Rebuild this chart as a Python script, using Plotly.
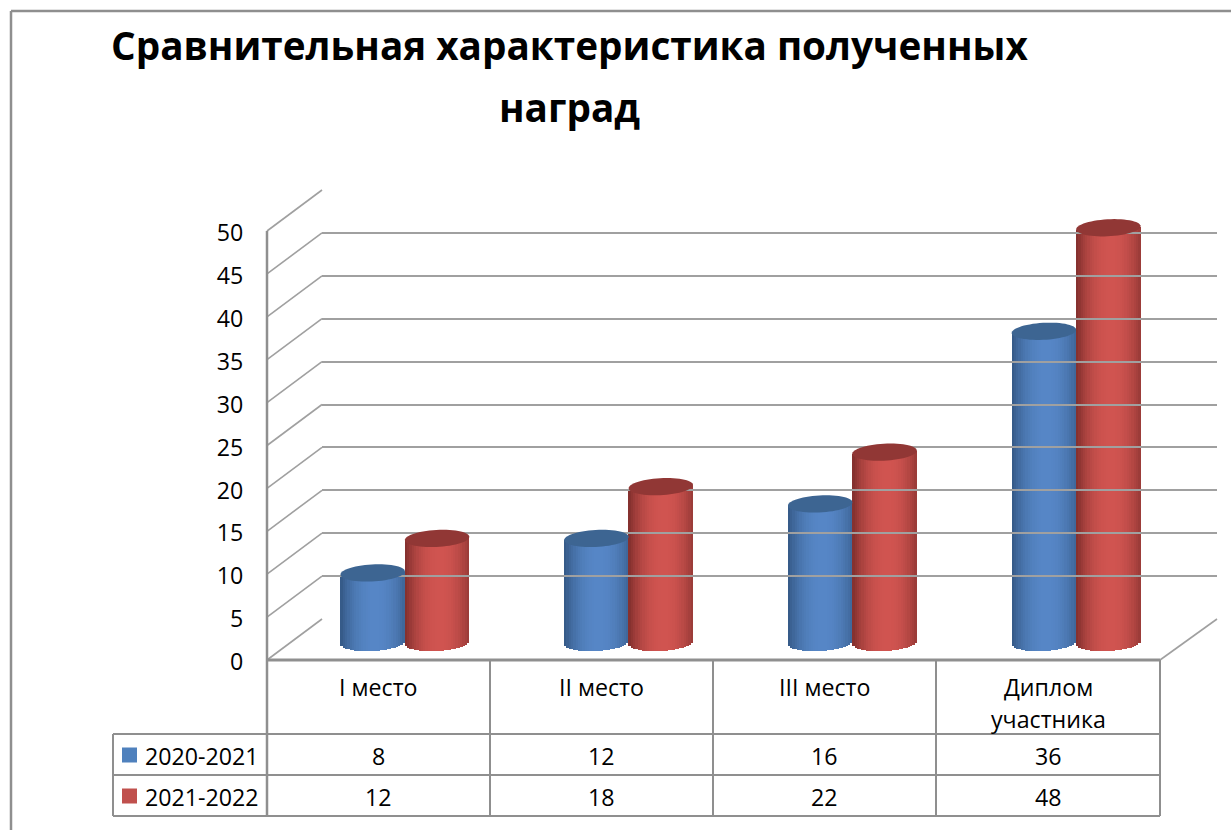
import numpy as np
import plotly.graph_objects as go

# ---- data ----
categories = ["I место", "II место", "III место", "Диплом<br>участника"]
series_names = ["2020-2021", "2021-2022"]
values_2020 = [8, 12, 16, 36]
values_2021 = [12, 18, 22, 48]
y_ticks = [0, 5, 10, 15, 20, 25, 30, 35, 40, 45, 50]
title_lines = ["Сравнительная характеристика полученных", "наград"]

# ---- style ----
W, H = 1231, 830
FONT = "Open Sans"
GREY = "#8f8f8f"
GRID = "#a0a0a0"
BLUE = dict(edge=(52, 88, 132), mid=(86, 134, 198), top="#3d6592", key="#4f81bd")
RED = dict(edge=(128, 46, 44), mid=(208, 84, 80), top="#913735", key="#c0504d")
N = 28
LABEL = 23.2


def px(x):
    return x / W


def py(y):
    return 1 - y / H


def shade(c, t):
    # t in [-1,1] across the cylinder; highlight slightly right of centre
    u = min(1, abs(t - 0.08) / 1.08)
    k = u ** 2.2
    rgb = [round(c["mid"][i] + (c["edge"][i] - c["mid"][i]) * k) for i in range(3)]
    return f"rgb({rgb[0]},{rgb[1]},{rgb[2]})"


fig = go.Figure()
shapes, annos = [], []

FL, FR = 267, 1160      # front floor edge
BL, BR = 322, 1217      # back wall
F0, F50 = 660, 231      # front value scale
B0, B50 = 619, 190      # back value scale
C0, C50 = 642, 210.5    # cylinder value scale
CL, CR = 293, 1188      # cylinder category band
LABEL_SHIFT = 2         # tick labels sit slightly below their gridlines

unit = (C0 - C50) / 50
bw = 0.288              # width of one cylinder in category units
ell_h = 8.5 / unit      # half height of ellipse, value units
tilt = 1.6 / unit       # the ellipses lean: left side lower
c_low = -2.0            # cylinder axis starts below zero so rounded bottoms show

# cylinders as narrow strips
xs = list(range(len(categories)))
for vals, c, sign in ((values_2020, BLUE, -1), (values_2021, RED, 1)):
    for j in range(N):
        t = -1 + (2 * j + 1) / N
        dw = bw / N
        centre = (sign * bw / 2) + t * bw / 2
        low = -ell_h * np.sqrt(max(0, 1 - t * t)) + tilt * t
        fig.add_trace(go.Bar(
            x=xs,
            y=[v + tilt * t - low for v in vals],
            base=[low] * len(vals),
            width=[dw * 1.12] * len(vals),
            offset=[centre - dw * 0.56] * len(vals),
            marker=dict(color=shade(c, t), line=dict(width=0)),
            xaxis="x2", yaxis="y2", showlegend=False, hoverinfo="skip",
        ))
    ang = np.linspace(0, 2 * np.pi, 60)
    for i, v in enumerate(vals):
        cx = i + sign * bw / 2
        pts = [(cx + bw / 2 * np.cos(a), v + ell_h * np.sin(a) + tilt * np.cos(a)) for a in ang]
        path = "M " + " L ".join(f"{a:.4f},{b:.4f}" for a, b in pts) + " Z"
        shapes.append(dict(type="path", path=path, xref="x2", yref="y2", layer="above",
                           fillcolor=c["top"], line=dict(width=0)))

# back wall grid and value labels come from axes (invisible dummy traces anchor them)
fig.add_trace(go.Scatter(x=[0], y=[0], xaxis="x3", yaxis="y3", mode="none",
                         showlegend=False, hoverinfo="skip"))
fig.add_trace(go.Scatter(x=[0], y=[0], xaxis="x", yaxis="y", mode="none",
                         showlegend=False, hoverinfo="skip"))

# diagonals from front scale to back wall
for v in y_ticks:
    yf = F0 + (F50 - F0) * v / 50
    yb = B0 + (B50 - B0) * v / 50
    shapes.append(dict(type="line", xref="paper", yref="paper", layer="below",
                       x0=px(FL), x1=px(BL), y0=py(yf), y1=py(yb),
                       line=dict(color=GRID, width=1.6)))
shapes.append(dict(type="line", xref="paper", yref="paper", layer="below",
                   x0=px(FR), x1=px(BR), y0=py(F0), y1=py(B0),
                   line=dict(color=GRID, width=1.6)))


# table lines
def line(x0, y0, x1, y1, w=2, color=GREY):
    shapes.append(dict(type="line", xref="paper", yref="paper", layer="below",
                       x0=px(x0), x1=px(x1), y0=py(y0), y1=py(y1),
                       line=dict(color=color, width=w)))


col_x = [267, 490, 713, 936, 1160]
row_y = [734, 775, 816]
line(FL, F50, FL, 816, 2.5)
line(FL, F0, FR, F0, 3)
for x in col_x[1:]:
    line(x, F0, x, 816)
line(113, 734, 113, 816)
for y in row_y:
    line(113, y, 1160, y)

# outer frame
line(11, 11, 11, H, 2.5)
line(11, 11, W, 11, 2.5)


# table text
def text(x, y, s, size=LABEL, xanchor="center", color="#000000", bold=False):
    annos.append(dict(xref="paper", yref="paper", x=px(x), y=py(y), text=f"<b>{s}</b>" if bold else s,
                      showarrow=False, xanchor=xanchor, yanchor="middle",
                      font=dict(family=FONT, size=size, color=color), align="center"))


centres = [(col_x[i] + col_x[i + 1]) / 2 for i in range(4)]
for c_x, cat in zip(centres, categories):
    if "<br>" in cat:
        a, b = cat.split("<br>")
        text(c_x, 687, a)
        text(c_x, 719, b)
    else:
        text(c_x, 687, cat)

for row, (name, vals, c) in enumerate(zip(series_names, (values_2020, values_2021), (BLUE, RED))):
    ymid = (row_y[row] + row_y[row + 1]) / 2 + 1
    shapes.append(dict(type="rect", xref="paper", yref="paper",
                       x0=px(122), x1=px(137), y0=py(ymid - 8), y1=py(ymid + 7),
                       fillcolor=c["key"], line=dict(width=0)))
    text(142.5, ymid, name, xanchor="left")
    for c_x, v in zip(centres, vals):
        text(c_x, ymid, str(v))

text(569, 45, title_lines[0], 38.7, bold=True)
text(569, 107, title_lines[1], 38.7, bold=True)

axis_off = dict(visible=False, fixedrange=True, automargin=False)
fig.update_layout(
    template="none",
    width=W, height=H, margin=dict(l=0, r=0, t=0, b=0, pad=0),
    paper_bgcolor="white", plot_bgcolor="rgba(0,0,0,0)",
    barmode="overlay", bargap=0, showlegend=False,
    shapes=shapes, annotations=annos,
    font=dict(family=FONT, color="#000000"),
    # front scale, tick labels only
    xaxis=dict(domain=[px(FL), px(FR)], range=[0, 1], anchor="y", **axis_off),
    yaxis=dict(domain=[py(F0 + LABEL_SHIFT), py(F50 + LABEL_SHIFT)], range=[0, 50], anchor="x",
               tickvals=y_ticks, showgrid=False, zeroline=False, showline=False, ticks="outside",
               ticklen=18, tickcolor="rgba(0,0,0,0)", automargin=False,
               tickfont=dict(family=FONT, size=LABEL, color="#000000"), fixedrange=True),
    # back wall grid
    xaxis3=dict(domain=[px(BL), px(BR)], range=[0, 1], anchor="y3", **axis_off),
    yaxis3=dict(domain=[py(B0), py(B50)], range=[0, 50], anchor="x3", tickvals=y_ticks,
                showgrid=True, gridcolor=GRID, gridwidth=2.2, zeroline=False, showline=False,
                showticklabels=False, ticks="", fixedrange=True, automargin=False),
    # cylinders
    xaxis2=dict(domain=[px(CL), px(CR)], range=[-0.5, 3.5], anchor="y2", **axis_off),
    yaxis2=dict(domain=[py(C0 - c_low * unit), py(C50)], range=[c_low, 50], anchor="x2", **axis_off),
)

fig.write_html("out.html", post_script='document.body.style.margin="0";',
               config={"displayModeBar": False})
